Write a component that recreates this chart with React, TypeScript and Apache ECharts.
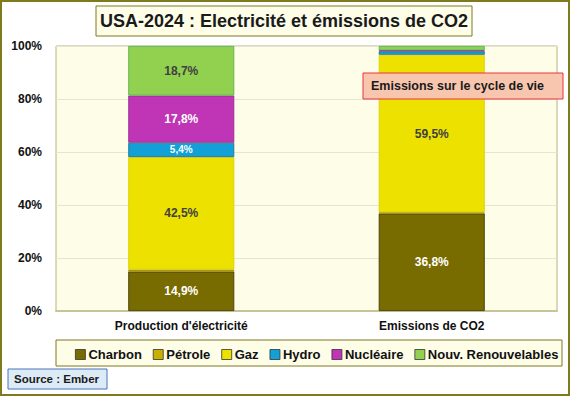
import React, { useEffect, useRef } from "react";
import * as echarts from "echarts";

const categories = ["Production d'électricité", "Emissions de CO2"];
const seriesNames = ["Charbon", "Pétrole", "Gaz", "Hydro", "Nucléaire", "Nouv. Renouvelables"];
const charbon = [14.9, 36.8];
const petrole = [0.7, 0.4];
const gaz = [42.5, 59.5];
const hydro = [5.4, 1.3];
const nucleaire = [17.8, 0.4];
const renouv = [18.7, 1.6];
const yTicks = [0, 20, 40, 60, 80, 100];

const colors = ["#786C00", "#C9B000", "#EDE100", "#12A0D7", "#C035B5", "#92D050"];
const borders = ["#3A3400", "#A08C00", "#D8CC00", "#1A6E90", "#8E2A88", "#4CAF50"];
const labelColors = ["#FFFFFF", "#404040", "#404040", "#FFFFFF", "#FFFFFF", "#404040"];
const labelSizes = [12, 12, 12, 10, 12, 12];

const FONT = "'Liberation Sans Narrow', 'Liberation Sans', Arial, sans-serif";

export default function App() {
  const ref = useRef<HTMLDivElement>(null);
  useEffect(() => {
    document.body.style.margin = "0";
    const chart = echarts.init(ref.current!, null, { renderer: "svg" });
    const values = [charbon, petrole, gaz, hydro, nucleaire, renouv];
    const series = seriesNames.map((name, i) => ({
      name,
      type: "bar",
      stack: "total",
      barWidth: 106,
      itemStyle: { color: colors[i], borderColor: borders[i], borderWidth: 0.8 },
      data: values[i].map((v) => ({
        value: v,
        label: {
          show: v >= 3,
          formatter: () => v.toFixed(1).replace(".", ",") + "%",
          color: labelColors[i],
          fontSize: labelSizes[i],
          fontWeight: "bold",
          fontFamily: FONT,
        },
      })),
    }));
    chart.setOption({
      animation: false,
      backgroundColor: "#FFFFFF",
      grid: {
        left: 56,
        right: 13,
        top: 46,
        bottom: 85,
        show: true,
        backgroundColor: "#FDFDE8",
        borderColor: "#B8B27A",
        borderWidth: 1,
      },
      xAxis: {
        type: "category",
        data: categories,
        axisLine: { show: true, lineStyle: { color: "#C8C49A", width: 2 } },
        axisTick: { show: false },
        axisLabel: { color: "#111", fontWeight: "bold", fontSize: 12, fontFamily: FONT, margin: 9 },
      },
      yAxis: {
        type: "value",
        min: yTicks[0],
        max: yTicks[yTicks.length - 1],
        interval: 20,
        axisLabel: { formatter: "{value}%", color: "#111", fontWeight: "bold", fontSize: 12, fontFamily: FONT, margin: 14 },
        splitLine: { lineStyle: { color: "#E6E4D2", width: 1 } },
        axisLine: { show: false },
        axisTick: { show: false },
      },
      legend: {
        data: seriesNames,
        left: 70,
        top: 343,
        itemWidth: 10,
        itemHeight: 10,
        itemGap: 11,
        icon: "rect",
        textStyle: { color: "#111", fontWeight: "bold", fontSize: 13, fontFamily: FONT, padding: [0, 0, 0, -2] },
        itemStyle: { borderColor: "#333", borderWidth: 0.8 },
      },
      graphic: [
        { type: "rect", z: 0, shape: { x: 1, y: 1, width: 568, height: 394 }, style: { fill: "none", stroke: "#7F7A1E", lineWidth: 2 } },
        { type: "rect", z: 10, shape: { x: 96, y: 6, width: 376, height: 30 }, style: { fill: "#FDFDE8", stroke: "#7F7A1E", lineWidth: 1 } },
        { type: "text", z: 11, style: { x: 284, y: 21, text: "USA-2024 : Electricité et émissions de CO2", fill: "#1A1A1A", font: "bold 18px " + FONT, textAlign: "center", textVerticalAlign: "middle" } },
        { type: "rect", z: 10, shape: { x: 363, y: 73, width: 200, height: 26 }, style: { fill: "#F8C6AF", stroke: "#E8343A", lineWidth: 1 } },
        { type: "text", z: 11, style: { x: 371, y: 86, text: "Emissions sur le cycle de vie", fill: "#1A1A1A", font: "bold 12.5px " + FONT, textVerticalAlign: "middle" } },
        { type: "rect", z: 1, shape: { x: 56, y: 340, width: 506, height: 26 }, style: { fill: "#FDFDE8", stroke: "#7F7A1E", lineWidth: 1 } },
        { type: "rect", z: 10, shape: { x: 8, y: 369, width: 99, height: 20 }, style: { fill: "#DDEBF7", stroke: "#4A72B8", lineWidth: 1 } },
        { type: "text", z: 11, style: { x: 14, y: 379, text: "Source : Ember", fill: "#1A1A1A", font: "bold 11.5px " + FONT, textVerticalAlign: "middle" } },
      ],
      series,
    });
    return () => chart.dispose();
  }, []);
  return <div ref={ref} style={{ width: 570, height: 396, position: "absolute", left: 0, top: 0 }} />;
}
